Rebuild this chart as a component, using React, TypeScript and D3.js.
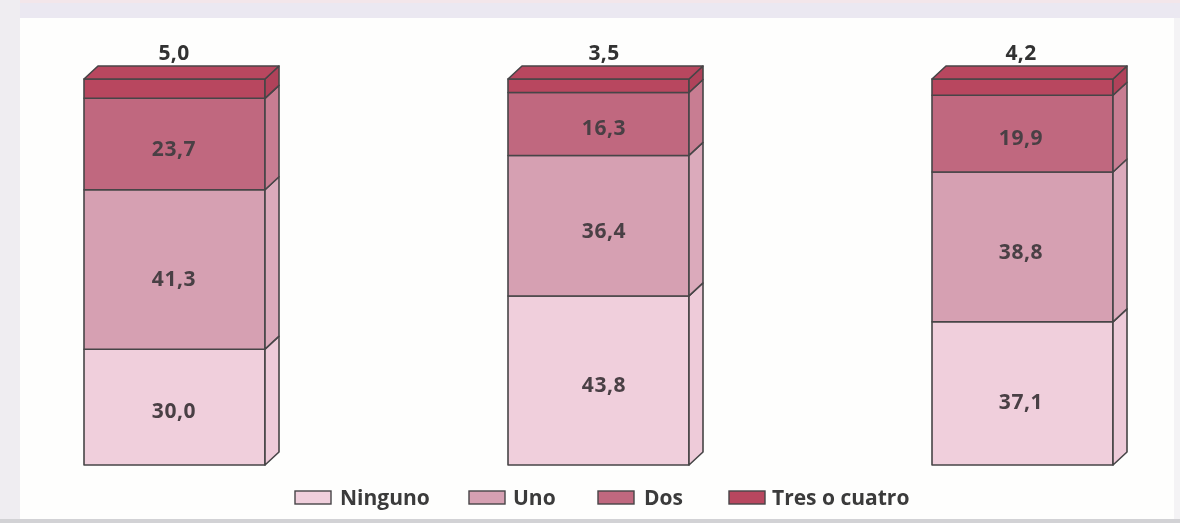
import React from "react";
import * as d3 from "d3";

const groups = ["A", "B", "C"];
const seriesNames = ["Ninguno", "Uno", "Dos", "Tres o cuatro"];
const ninguno = [30.0, 43.8, 37.1];
const uno = [41.3, 36.4, 38.8];
const dos = [23.7, 16.3, 19.9];
const tres = [5.0, 3.5, 4.2];
const seriesValues = [ninguno, uno, dos, tres];
const frontColors = ["#f0cfdc", "#d6a0b2", "#c0687f", "#b8465f"];
const sideColors = ["#eecbd9", "#dbaabb", "#c87d92", "#b0425a"];
const legendX = [295, 469, 598, 729];
const legendTextX = [340, 513, 644, 772];
// hand-placed shifts of the value labels, as in the printed original (px)
const labelShiftX = [-1, 5, -2];
const labelShiftY = [
  [3, 4, 8],
  [9, 5, 5],
  [4, 3, 4],
];

const W = 1180, H = 523, DX = 14, DY = 13, BAR_W = 181;
const INK = "#474547";
const fmt = (v: number) => v.toFixed(1).replace(".", ",");

export default function App() {
  const y = d3.scaleLinear().domain([0, 100]).range([465, 79]);
  const x = d3.scalePoint<string>().domain(groups).range([84, 932]);
  const stackGen = d3.stack<number>()
    .keys(seriesNames.map((_, i) => String(i)))
    .value((idx, key) => seriesValues[+key][idx]);
  const stacked = stackGen(groups.map((_, i) => i));
  const font = "'Open Sans', 'Noto Sans', sans-serif";

  return (
    <svg width={W} height={H} style={{ position: "absolute", left: 0, top: 0 }} fontFamily={font}>
      <defs>
        <filter id="soft" x="-5%" y="-5%" width="110%" height="110%">
          <feGaussianBlur stdDeviation="0.5" />
        </filter>
      </defs>
      <rect width={W} height={H} fill="#fefefd" />
      <rect width={W} height={18} fill="#ebe8f1" />
      <rect width={W} height={3} fill="#f3e6ea" />
      <rect width={20} height={H} fill="#efedf1" />
      <rect x={1174} y={18} width={6} height={H} fill="#f4f3f5" />
      <rect y={519} width={W} height={4} fill="#d2d2d5" />
      <g filter="url(#soft)">
        {groups.map((g, gi) => {
          const left = x(g)!;
          const right = left + BAR_W;
          const topY = y(100);
          return (
            <g key={g}>
              {stacked.map((s, si) => {
                const y0 = y(s[gi][0]);
                const y1 = y(s[gi][1]);
                return (
                  <g key={si} stroke={INK} strokeWidth={1.6} strokeLinejoin="round">
                    <rect x={left} y={y1} width={BAR_W} height={y0 - y1} fill={frontColors[si]} />
                    <polygon
                      points={`${right},${y0} ${right + DX},${y0 - DY} ${right + DX},${y1 - DY} ${right},${y1}`}
                      fill={sideColors[si]}
                    />
                  </g>
                );
              })}
              <polygon
                points={`${left},${topY} ${left + DX},${topY - DY} ${right + DX},${topY - DY} ${right},${topY}`}
                fill="#b8465f"
                stroke={INK}
                strokeWidth={1.6}
                strokeLinejoin="round"
              />
              {stacked.slice(0, 3).map((s, si) => (
                <text
                  key={si}
                  x={left + BAR_W / 2 + labelShiftX[gi] + 0.5}
                  y={y((s[gi][0] + s[gi][1]) / 2) + labelShiftY[si][gi]}
                  dy="0.36em"
                  textAnchor="middle"
                  fontSize={21}
                  fontWeight={700}
                  letterSpacing={0.6}
                  fill="#4a3f44"
                >
                  {fmt(seriesValues[si][gi])}
                </text>
              ))}
              <text
                x={left + BAR_W / 2 + labelShiftX[gi] + 0.5}
                y={60}
                textAnchor="middle"
                fontSize={21}
                fontWeight={700}
                letterSpacing={0.4}
                fill="#333"
              >
                {fmt(tres[gi])}
              </text>
            </g>
          );
        })}
        {seriesNames.map((n, i) => (
          <g key={n}>
            <rect x={legendX[i]} y={491} width={36} height={13} fill={frontColors[i]} stroke={INK} strokeWidth={1.4} />
            <text x={legendTextX[i]} y={505} fontSize={21} fontWeight={700} fill="#3a3a3a">{n}</text>
          </g>
        ))}
      </g>
    </svg>
  );
}
